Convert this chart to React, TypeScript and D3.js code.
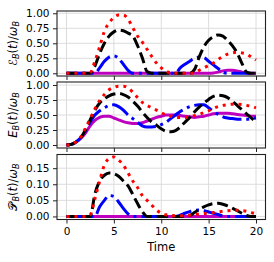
import React, { useEffect, useRef } from 'react'
import { axisBottom, axisLeft, scaleLinear, line, curveMonotoneX, select, format } from 'd3'

const time = [
  0, 0.5, 1, 1.5, 2, 2.5, 3, 3.5, 4, 4.5, 5, 5.5, 6, 6.5, 7, 7.5, 8, 8.5, 9, 9.5, 10,
  10.5, 11, 11.5, 12, 12.5, 13, 13.5, 14, 14.5, 15, 15.5, 16, 16.5, 17, 17.5, 18, 18.5, 19, 19.5, 20,
]

// top panel: ergotropy
const ergoRed = [
  0, 0, 0, 0, 0, 0.01, 0.2, 0.44, 0.7, 0.84, 0.93, 0.97, 0.97, 0.9, 0.76, 0.62, 0.52, 0.4, 0.28, 0.17, 0.09,
  0.035, 0.005, 0, 0, 0, 0, 0.01, 0.05, 0.09, 0.13, 0.17, 0.23, 0.28, 0.32, 0.34, 0.35, 0.34, 0.32, 0.27, 0.22,
]
const ergoBlack = [
  0, 0, 0, 0, 0, 0, 0.12, 0.33, 0.5, 0.62, 0.69, 0.72, 0.71, 0.67, 0.62, 0.46, 0.26, 0.03, 0, 0, 0,
  0, 0, 0, 0, 0, 0, 0.06, 0.27, 0.44, 0.55, 0.61, 0.64, 0.62, 0.55, 0.46, 0.34, 0.17, 0.02, 0, 0,
]
const ergoBlue = [
  0, 0, 0, 0, 0, 0, 0, 0.09, 0.2, 0.27, 0.29, 0.25, 0.15, 0.05, 0, 0, 0, 0, 0, 0, 0,
  0, 0, 0, 0.09, 0.15, 0.2, 0.25, 0.27, 0.26, 0.2, 0.14, 0.08, 0.02, 0, 0, 0, 0, 0, 0, 0,
]
const ergoMagenta = [
  0, 0, 0, 0, 0, 0, 0, 0, 0, 0, 0, 0, 0, 0, 0, 0, 0, 0, 0, 0, 0,
  0, 0, 0, 0, 0, 0, 0, 0, 0, 0, 0.005, 0.02, 0.04, 0.05, 0.05, 0.04, 0.02, 0.005, 0, 0,
]

// middle panel: energy
const energyRed = [
  0, 0.01, 0.05, 0.13, 0.28, 0.44, 0.6, 0.74, 0.84, 0.92, 0.96, 0.98, 0.98, 0.95, 0.88, 0.79, 0.71, 0.66, 0.62, 0.58, 0.54,
  0.5, 0.48, 0.46, 0.46, 0.46, 0.47, 0.49, 0.51, 0.54, 0.57, 0.61, 0.64, 0.66, 0.67, 0.68, 0.68, 0.675, 0.66, 0.645, 0.62,
]
const energyBlack = [
  0, 0.01, 0.05, 0.12, 0.25, 0.42, 0.58, 0.7, 0.77, 0.82, 0.85, 0.86, 0.84, 0.8, 0.73, 0.65, 0.55, 0.46, 0.38, 0.33, 0.27,
  0.23, 0.22, 0.24, 0.3, 0.38, 0.46, 0.55, 0.63, 0.7, 0.76, 0.81, 0.83, 0.82, 0.79, 0.73, 0.66, 0.59, 0.52, 0.45, 0.38,
]
const energyBlue = [
  0, 0.01, 0.05, 0.12, 0.24, 0.38, 0.5, 0.57, 0.62, 0.66, 0.67, 0.64, 0.58, 0.5, 0.44, 0.38, 0.32, 0.3, 0.3, 0.31, 0.34,
  0.38, 0.44, 0.5, 0.56, 0.6, 0.64, 0.66, 0.67, 0.67, 0.62, 0.56, 0.51, 0.47, 0.45, 0.44, 0.43, 0.43, 0.43, 0.44, 0.45,
]
const energyMagenta = [
  0, 0.01, 0.05, 0.11, 0.2, 0.32, 0.41, 0.46, 0.48, 0.48, 0.45, 0.42, 0.39, 0.37, 0.36, 0.36, 0.37, 0.4, 0.43, 0.46, 0.48,
  0.5, 0.5, 0.5, 0.49, 0.48, 0.47, 0.46, 0.47, 0.48, 0.5, 0.52, 0.53, 0.53, 0.53, 0.52, 0.51, 0.5, 0.49, 0.48, 0.48,
]

// bottom panel: power
const powerRed = [
  0, 0, 0, 0, 0, 0.005, 0.055, 0.11, 0.16, 0.18, 0.185, 0.175, 0.16, 0.135, 0.11, 0.09, 0.065, 0.05, 0.035, 0.02, 0.01,
  0.005, 0.003, 0.002, 0.002, 0.003, 0.004, 0.006, 0.008, 0.009, 0.011, 0.012, 0.014, 0.016, 0.018, 0.019, 0.019, 0.018, 0.016, 0.012, 0.008,
]
const powerBlack = [
  0, 0, 0, 0, 0, 0, 0.07, 0.11, 0.128, 0.135, 0.133, 0.125, 0.11, 0.095, 0.068, 0.04, 0.015, 0, 0, 0, 0,
  0, 0, 0, 0, 0, 0.003, 0.012, 0.022, 0.03, 0.036, 0.04, 0.041, 0.038, 0.033, 0.026, 0.018, 0.01, 0.003, 0, 0,
]
const powerBlue = [
  0, 0, 0, 0, 0, 0, 0, 0.03, 0.05, 0.065, 0.062, 0.045, 0.025, 0.008, 0, 0, 0, 0, 0, 0, 0,
  0, 0, 0, 0.004, 0.01, 0.015, 0.019, 0.02, 0.018, 0.014, 0.01, 0.006, 0.002, 0, 0, 0, 0, 0, 0, 0,
]
const powerMagenta = [
  0, 0, 0, 0, 0, 0, 0, 0, 0, 0, 0, 0, 0, 0, 0, 0, 0, 0, 0, 0, 0,
  0, 0, 0, 0, 0, 0, 0, 0, 0, 0, 0, 0, 0, 0, 0, 0, 0, 0, 0, 0,
]

const xTicks = [0, 5, 10, 15, 20]
const unitTicks = [0, 0.25, 0.5, 0.75, 1]
const powerTicks = [0, 0.05, 0.1, 0.15]

const FONT = 'DejaVu Sans'
const left = 57
const right = 265.5

const styles = [
  { color: '#bf00bf', dash: null },
  { color: 'blue', dash: '19.2,4.8,3,4.8' },
  { color: 'black', dash: '11.1,4.8' },
  { color: 'red', dash: '3,4.95' },
]

const panels = [
  { top: 11, bottom: 76, domain: [-0.045, 1.038], ticks: unitTicks, fmt: '.2f', sym: 'ℰ', script: true,
    series: [ergoMagenta, ergoBlue, ergoBlack, ergoRed], labels: false },
  { top: 82, bottom: 148, domain: [-0.05, 1.05], ticks: unitTicks, fmt: '.2f', sym: 'E', script: false,
    series: [energyMagenta, energyBlue, energyBlack, energyRed], labels: false },
  { top: 154.5, bottom: 219.5, domain: [-0.0095, 0.1925], ticks: powerTicks, fmt: '.2f', sym: '𝒫', script: true,
    series: [powerMagenta, powerBlue, powerBlack, powerRed], labels: true },
]

const AxisLeft = ({ scale, ticks, fmt }) => {
  const ref = useRef(null)
  useEffect(() => {
    const g = select(ref.current)
    g.call(axisLeft(scale).tickValues(ticks).tickFormat(format(fmt)).tickSize(4).tickPadding(3.5))
    g.attr('font-size', 10.5).attr('font-family', FONT)
    g.select('.domain').remove()
    g.selectAll('line').attr('stroke', '#222')
    g.selectAll('text').attr('fill', '#000')
  }, [scale])
  return <g ref={ref} transform={`translate(${left},0)`} />
}

const AxisBottom = ({ scale, y, labels }) => {
  const ref = useRef(null)
  useEffect(() => {
    const g = select(ref.current)
    g.call(axisBottom(scale).tickValues(xTicks).tickFormat(labels ? format('d') : () => '').tickSize(4).tickPadding(4.5))
    g.attr('font-size', 10.5).attr('font-family', FONT)
    g.select('.domain').remove()
    g.selectAll('line').attr('stroke', '#222')
    g.selectAll('text').attr('fill', '#000')
  }, [scale])
  return <g ref={ref} transform={`translate(0,${y})`} />
}

const YLabel = ({ sym, script, cy }) => (
  <text transform={`translate(16.5,${cy}) rotate(-90)`} textAnchor="middle" fontSize={11.5} fontFamily={FONT}>
    <tspan fontStyle={script ? 'normal' : 'italic'}>{sym}</tspan>
    <tspan fontSize={8} fontStyle="italic" dy={2.5}>B</tspan>
    <tspan dy={-2.5}>(</tspan>
    <tspan fontStyle="italic">t</tspan>
    <tspan>)/</tspan>
    <tspan fontStyle="italic">ω</tspan>
    <tspan fontSize={8} fontStyle="italic" dy={2.5}>B</tspan>
  </text>
)

const Panel = ({ p, x }) => {
  const y = scaleLinear().domain(p.domain).range([p.bottom, p.top])
  const path = line().x((d) => x(d[0])).y((d) => y(d[1])).curve(curveMonotoneX)
  const clipId = `clip-${p.top}`
  return (
    <g>
      <defs>
        <clipPath id={clipId}>
          <rect x={left} y={p.top} width={right - left} height={p.bottom - p.top} />
        </clipPath>
      </defs>
      {xTicks.map((t) => (
        <line key={`gx${t}`} x1={x(t)} x2={x(t)} y1={p.top} y2={p.bottom} stroke="#dcdcdc" strokeWidth={1} />
      ))}
      {p.ticks.map((t) => (
        <line key={`gy${t}`} x1={left} x2={right} y1={y(t)} y2={y(t)} stroke="#dcdcdc" strokeWidth={1} />
      ))}
      <g clipPath={`url(#${clipId})`}>
        {p.series.map((vals, i) => (
          <path
            key={i}
            d={path(time.map((t, j) => [t, vals[j]]))}
            fill="none"
            stroke={styles[i].color}
            strokeWidth={3}
            strokeDasharray={styles[i].dash || undefined}
            strokeLinecap="butt"
            strokeLinejoin="round"
          />
        ))}
      </g>
      <rect x={left} y={p.top} width={right - left} height={p.bottom - p.top} fill="none" stroke="#222" strokeWidth={1.1} />
      <AxisLeft scale={y} ticks={p.ticks} fmt={p.fmt} />
      <AxisBottom scale={x} y={p.bottom} labels={p.labels} />
      <YLabel sym={p.sym} script={p.script} cy={(p.top + p.bottom) / 2} />
    </g>
  )
}

export default function App() {
  const x = scaleLinear().domain([-1, 21]).range([left, right])
  return (
    <svg width={274} height={262} style={{ position: 'absolute', left: 0, top: 0, background: '#fff' }}>
      {panels.map((p) => (
        <Panel key={p.top} p={p} x={x} />
      ))}
      <text x={x(10)} y={251} textAnchor="middle" fontSize={11.5} fontFamily={FONT}>Time</text>
    </svg>
  )
}
